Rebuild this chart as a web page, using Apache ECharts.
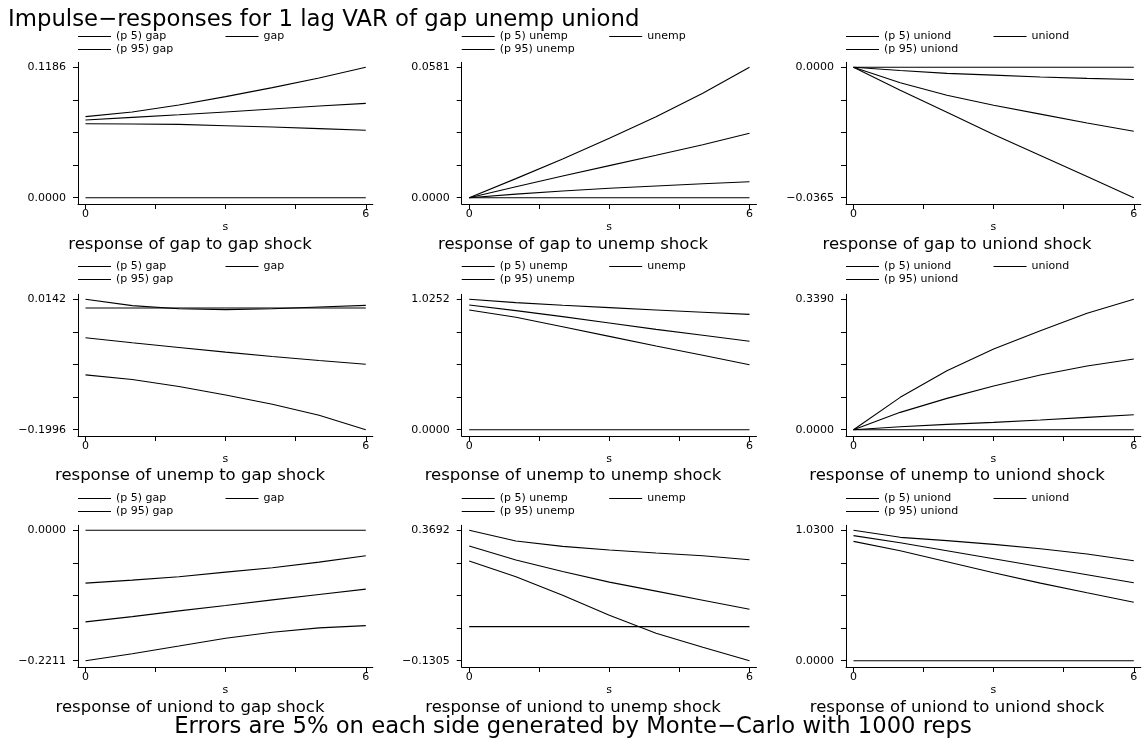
<!DOCTYPE html>
<html><head><meta charset="utf-8">
<script src="https://cdn.jsdelivr.net/npm/echarts@6/dist/echarts.min.js"></script>
<style>html,body{margin:0;padding:0;background:#fff}#c{width:1144px;height:749px}</style>
</head><body><div id="c"></div>
<script>
// ---------- data ----------
const steps = [0, 1, 2, 3, 4, 5, 6];
const zeroLine = [0, 0, 0, 0, 0, 0, 0];
const shockNames = ['gap', 'unemp', 'uniond'];
const responseNames = ['gap', 'unemp', 'uniond'];
const xTickValues = [0, 1.5, 3, 4.5, 6];
const xLabelValues = [0, 6];

// response of gap
const gapToGap_p5   = [0.0673, 0.0670, 0.0667, 0.0655, 0.0643, 0.0628, 0.0613];
const gapToGap_irf  = [0.0707, 0.0731, 0.0755, 0.0780, 0.0807, 0.0834, 0.0858];
const gapToGap_p95  = [0.0737, 0.0780, 0.0843, 0.0919, 0.1001, 0.1089, 0.1186];
const gapToUnemp_p5  = [0, 0.0016, 0.0030, 0.0042, 0.0052, 0.0062, 0.0071];
const gapToUnemp_irf = [0, 0.0049, 0.0097, 0.0143, 0.0189, 0.0236, 0.0287];
const gapToUnemp_p95 = [0, 0.0085, 0.0172, 0.0265, 0.0361, 0.0465, 0.0581];
const gapToUniond_p5  = [0, -0.0064, -0.0126, -0.0188, -0.0247, -0.0306, -0.0365];
const gapToUniond_irf = [0, -0.0043, -0.0078, -0.0106, -0.0131, -0.0156, -0.0179];
const gapToUniond_p95 = [0, -0.0009, -0.0017, -0.0022, -0.0027, -0.0031, -0.0034];
// response of unemp
const unempToGap_p5  = [-0.1097, -0.1174, -0.1288, -0.1426, -0.1579, -0.1760, -0.1996];
const unempToGap_irf = [-0.0488, -0.0571, -0.0647, -0.0724, -0.0795, -0.0861, -0.0922];
const unempToGap_p95 = [0.0142, 0.0038, -0.0012, -0.0028, -0.0012, 0.0016, 0.0043];
const unempToUnemp_p5  = [0.941, 0.884, 0.810, 0.734, 0.658, 0.585, 0.511];
const unempToUnemp_irf = [0.981, 0.936, 0.889, 0.839, 0.789, 0.742, 0.695];
const unempToUnemp_p95 = [1.0252, 0.999, 0.978, 0.960, 0.941, 0.923, 0.907];
const unempToUniond_p5  = [0, 0.0078, 0.0139, 0.0191, 0.0251, 0.0321, 0.0390];
const unempToUniond_irf = [0, 0.0451, 0.0815, 0.1136, 0.1422, 0.1656, 0.1838];
const unempToUniond_p95 = [0, 0.0841, 0.1535, 0.2098, 0.2575, 0.3026, 0.3390];
// response of uniond
const uniondToGap_p5  = [-0.2211, -0.2092, -0.1962, -0.1831, -0.1729, -0.1655, -0.1616];
const uniondToGap_irf = [-0.1553, -0.1463, -0.1366, -0.1276, -0.1179, -0.1088, -0.0998];
const uniondToGap_p95 = [-0.0896, -0.0845, -0.0788, -0.0709, -0.0635, -0.0539, -0.0431];
const uniondToUnemp_p5  = [0.2513, 0.1911, 0.1207, 0.0438, -0.0250, -0.0790, -0.1305];
const uniondToUnemp_irf = [0.3090, 0.2552, 0.2116, 0.1706, 0.1360, 0.1014, 0.0668];
const uniondToUnemp_p95 = [0.3692, 0.3282, 0.3077, 0.2936, 0.2821, 0.2718, 0.2564];
const uniondToUniond_p5  = [0.9428, 0.8689, 0.7817, 0.6946, 0.6127, 0.5361, 0.4622];
const uniondToUniond_irf = [0.9877, 0.9323, 0.8689, 0.8055, 0.7421, 0.6787, 0.6153];
const uniondToUniond_p95 = [1.0300, 0.9745, 0.9481, 0.9191, 0.8847, 0.8425, 0.7897];

const titleText = 'Impulse\u2212responses for 1 lag VAR of gap unemp uniond';
const noteText = 'Errors are 5% on each side generated by Monte\u2212Carlo with 1000 reps';

const panels = [
  [gapToGap_p5, gapToGap_irf, gapToGap_p95],
  [gapToUnemp_p5, gapToUnemp_irf, gapToUnemp_p95],
  [gapToUniond_p5, gapToUniond_irf, gapToUniond_p95],
  [unempToGap_p5, unempToGap_irf, unempToGap_p95],
  [unempToUnemp_p5, unempToUnemp_irf, unempToUnemp_p95],
  [unempToUniond_p5, unempToUniond_irf, unempToUniond_p95],
  [uniondToGap_p5, uniondToGap_irf, uniondToGap_p95],
  [uniondToUnemp_p5, uniondToUnemp_irf, uniondToUnemp_p95],
  [uniondToUniond_p5, uniondToUniond_irf, uniondToUniond_p95]
];

// ---------- layout ----------
const FONT = 'DejaVu Sans';
const colLeft = [78, 461.7, 846];
const gridW = 294.8;
const rowTop = [62.3, 294.3, 525.3];
const gridH = 141.7;
const padTop = 5 / 130.4, padBot = 6.3 / 130.4;
const xMin = -0.1605, xMax = 6.15;
const captionX = [190, 573, 957];
const captionTop = [236.1, 467.6, 699.1];
const legendTop = [31, 261, 493];
const legendColGap = 147.5, legendRowGap = 13;

function fmt(v) { return (v < 0 ? '\u2212' : '') + Math.abs(v).toFixed(4); }

const grids = [], xAxes = [], yAxes = [], series = [], legends = [];
const titles = [
  { text: titleText, left: 8, top: 8.6, padding: 0,
    textStyle: { fontFamily: FONT, fontSize: 22.8, fontWeight: 'normal', color: '#000' } },
  { text: noteText, left: 573, top: 715.9, padding: 0, textAlign: 'center',
    textStyle: { fontFamily: FONT, fontSize: 22.7, fontWeight: 'normal', color: '#000' } }
];

function legendAt(name, left, top) {
  return { left: left, top: top, padding: 0, itemGap: 2, orient: 'horizontal',
    itemWidth: 33, itemHeight: 1, icon: 'rect', selectedMode: false,
    textStyle: { fontFamily: FONT, fontSize: 11, color: '#000' },
    data: [name] };
}

panels.forEach((p, i) => {
  const r = Math.floor(i / 3), c = i % 3;
  const shock = shockNames[c], resp = responseNames[r];
  const all = p[0].concat(p[1], p[2], zeroLine);
  const lo = Math.min(...all), hi = Math.max(...all), R = hi - lo;
  grids.push({ left: colLeft[c], top: rowTop[r], width: gridW, height: gridH,
    containLabel: false, outerBoundsMode: 'none' });
  xAxes.push({
    type: 'value', gridIndex: i, min: xMin, max: xMax,
    name: 's', nameLocation: 'middle', nameGap: 18,
    nameTextStyle: { fontFamily: FONT, fontSize: 11, color: '#000' },
    axisLine: { show: true, onZero: false, lineStyle: { color: '#000', width: 1 } },
    axisTick: { show: true, length: 5, customValues: xTickValues, lineStyle: { color: '#000', width: 1 } },
    axisLabel: { show: true, customValues: xLabelValues, margin: 5, fontFamily: FONT, fontSize: 11, color: '#000',
      formatter: v => String(Math.round(v)) },
    splitLine: { show: false }
  });
  const yTicks = [0, 1, 2, 3, 4].map(k => lo + k * R / 4);
  yAxes.push({
    type: 'value', gridIndex: i, min: lo - padBot * R, max: hi + padTop * R,
    axisLine: { show: true, onZero: false, lineStyle: { color: '#000', width: 1 } },
    axisTick: { show: true, length: 5, customValues: yTicks, lineStyle: { color: '#000', width: 1 } },
    axisLabel: { show: true, customValues: [lo, hi], margin: 12, fontFamily: FONT, fontSize: 11, color: '#000',
      formatter: v => fmt(v) },
    splitLine: { show: false }
  });
  const names = ['(p 5) ' + shock, shock, '(p 95) ' + shock];
  p.forEach((arr, k) => {
    series.push({ type: 'line', name: names[k], xAxisIndex: i, yAxisIndex: i,
      data: steps.map((s, j) => [s, arr[j]]), symbol: 'none', silent: true,
      lineStyle: { color: '#000', width: 1.1 }, itemStyle: { color: '#000' } });
  });
  series.push({ type: 'line', name: 'zero' + i, xAxisIndex: i, yAxisIndex: i,
    data: steps.map((s, j) => [s, zeroLine[j]]), symbol: 'none', silent: true,
    lineStyle: { color: '#000', width: 1.1 }, itemStyle: { color: '#000' } });
  legends.push(legendAt(names[0], colLeft[c], legendTop[r]));
  legends.push(legendAt(names[1], colLeft[c] + legendColGap, legendTop[r]));
  legends.push(legendAt(names[2], colLeft[c], legendTop[r] + legendRowGap));
  titles.push({ text: 'response of ' + resp + ' to ' + shock + ' shock',
    left: captionX[c], top: captionTop[r], padding: 0, textAlign: 'center',
    textStyle: { fontFamily: FONT, fontSize: 16.5, fontWeight: 'normal', color: '#000' } });
});

const chart = echarts.init(document.getElementById('c'), null, { renderer: 'canvas' });
chart.setOption({
  backgroundColor: '#fff', animation: false,
  title: titles, legend: legends, grid: grids, xAxis: xAxes, yAxis: yAxes, series: series
});
</script></body></html>
